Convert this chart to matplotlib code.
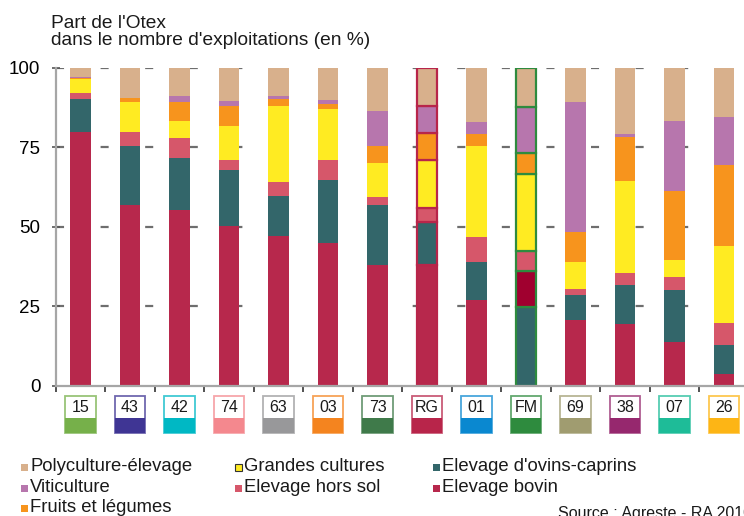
import matplotlib
matplotlib.use('Agg')
import matplotlib.pyplot as plt
from matplotlib.patches import Rectangle
from matplotlib.transforms import blended_transform_factory
import numpy as np

plt.rcParams.update({
    'font.family': ['Liberation Sans', 'DejaVu Sans'],
    'font.size': 13,
    'text.color': '#1a1a1a',
    'lines.scale_dashes': False,
})

W, H = 744, 516

categories = ['15', '43', '42', '74', '63', '03', '73', 'RG', '01', 'FM', '69', '38', '07', '26']
cat_colors = ['#76b04a', '#3f3594', '#00b8c4', '#f4888e', '#98989a', '#f4841f', '#3f7a4a',
              '#b8254a', '#0a88d0', '#2e8b3e', '#a09c70', '#96286e', '#1ebc98', '#fdb515']

# share of each Otex (%)
bovin     = [79.7, 57.0, 55.3, 50.2, 47.1, 45.0, 38.0, 38.0, 27.0, 11.3, 20.7, 19.4, 13.7, 3.5]
ovins     = [10.5, 18.4, 16.4, 17.7, 12.6, 19.7, 18.9, 13.4, 11.9, 24.7, 7.8, 12.3, 16.4, 9.3]
hors_sol  = [1.9, 4.5, 6.3, 3.1, 4.4, 6.3, 2.5, 4.6, 7.9, 6.3, 1.9, 3.8, 4.1, 6.9]
grandes   = [4.5, 9.4, 5.3, 10.7, 23.9, 16.1, 10.7, 15.1, 28.6, 24.3, 8.5, 28.9, 5.4, 24.3]
fruits    = [0.3, 1.3, 6.0, 6.3, 2.2, 1.6, 5.3, 8.5, 3.8, 6.7, 9.5, 14.0, 21.7, 25.5]
viti      = [0.3, 0.0, 1.9, 1.6, 1.0, 1.2, 11.1, 8.4, 3.8, 14.4, 40.9, 0.8, 22.0, 15.1]
poly      = [2.8, 9.4, 8.8, 10.4, 8.8, 10.1, 13.5, 12.0, 17.0, 12.3, 10.7, 20.8, 16.7, 15.4]

series = {
    'bovin': (bovin, '#b7284c', 'Elevage bovin'),
    'ovins': (ovins, '#33666a', "Elevage d'ovins-caprins"),
    'hors_sol': (hors_sol, '#d6576a', 'Elevage hors sol'),
    'grandes': (grandes, '#ffeb22', 'Grandes cultures'),
    'fruits': (fruits, '#f7941d', 'Fruits et légumes'),
    'viti': (viti, '#b776ad', 'Viticulture'),
    'poly': (poly, '#d8b08c', 'Polyculture-élevage'),
}
stack_order = ['bovin', 'ovins', 'hors_sol', 'grandes', 'fruits', 'viti', 'poly']
fm_order = ['ovins', 'bovin', 'hors_sol', 'grandes', 'fruits', 'viti', 'poly']
fm_bovin_color = '#a0002f'


def fx(x):
    return x / W


def fy(y):
    return 1 - y / H


fig = plt.figure(figsize=(W / 100, H / 100), dpi=100)
ax_left, ax_right = 55.75, 748.75
ax_top, ax_bot = 68, 385.5
ax = fig.add_axes([fx(ax_left), fy(ax_bot), (ax_right - ax_left) / W, (ax_bot - ax_top) / H])

x = np.arange(len(categories))
width = 0.424

for i, cat in enumerate(categories):
    order = fm_order if cat == 'FM' else stack_order
    bottom = 0
    for key in order:
        vals, col, _ = series[key]
        v = vals[i]
        if v <= 0:
            continue
        if cat == 'FM' and key == 'bovin':
            col = fm_bovin_color
        if cat in ('RG', 'FM'):
            ax.bar(i, v, width, bottom=bottom, color=col,
                   edgecolor=cat_colors[i], linewidth=1.6, zorder=3)
        else:
            ax.bar(i, v, width, bottom=bottom, color=col, linewidth=0, zorder=3)
        bottom += v

for yv in [25, 50, 75, 100]:
    ax.axhline(yv, color='#6e6e6e', linewidth=1.6, dashes=(5.8, 26.3), zorder=1)

ax.set_xlim(-0.5, len(categories) - 0.5)
ax.set_ylim(0, 100)
ax.set_yticks([0, 25, 50, 75, 100])
ax.tick_params(axis='y', direction='inout', length=6, width=1.2, color='#555555',
               labelsize=13.5, pad=8)
ax.set_xticks([])
ax.set_xticks(np.arange(len(categories) + 1) - 0.5, minor=True)
ax.tick_params(axis='x', which='minor', direction='out', length=4, width=1.2, color='#333333')
for s in ['top', 'right']:
    ax.spines[s].set_visible(False)
for s in ['left', 'bottom']:
    ax.spines[s].set_color('#a6a6a6')
    ax.spines[s].set_linewidth(1.6)
ax.spines['bottom'].set_zorder(4)

# category boxes under the axis
tr = blended_transform_factory(ax.transData, fig.transFigure)
bw = 30.3 / 49.5
for i, cat in enumerate(categories):
    c = cat_colors[i]
    ax.add_patch(Rectangle((i - bw / 2, fy(433)), bw, fy(418.3) - fy(433), transform=tr,
                           facecolor=c, edgecolor='none', clip_on=False))
    ax.add_patch(Rectangle((i - bw / 2, fy(433)), bw, fy(396) - fy(433), transform=tr,
                           facecolor='none', edgecolor=c, alpha=0.75, linewidth=1.3, clip_on=False))
    ax.text(i, fy(407.5), cat, transform=tr, ha='center', va='center', fontsize=11.5)

# title
fig.text(fx(51), fy(27.5), "Part de l'Otex", fontsize=13.8, va='baseline')
fig.text(fx(51), fy(45), "dans le nombre d'exploitations (en %)", fontsize=13.8, va='baseline')

# legend
legend_items = [
    ('poly', 21, 471), ('viti', 21, 492), ('fruits', 21, 512),
    ('grandes', 235, 471), ('hors_sol', 235, 492),
    ('ovins', 433, 471), ('bovin', 433, 492),
]
for key, lx, ly in legend_items:
    _, col, lab = series[key]
    ec = '#333333' if key == 'grandes' else 'none'
    fig.add_artist(Rectangle((fx(lx), fy(ly)), 7 / W, 7 / H, transform=fig.transFigure,
                             facecolor=col, edgecolor=ec, linewidth=0.8))
    fig.text(fx(lx + 9), fy(ly), lab, fontsize=13.3, va='baseline')

fig.text(fx(558), fy(518), 'Source : Agreste - RA 2010', fontsize=11.5, va='baseline')

fig.savefig('out.png', dpi=100)
